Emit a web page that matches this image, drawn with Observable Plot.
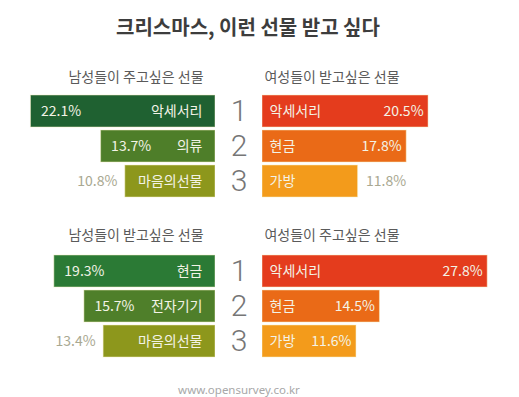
<!DOCTYPE html>
<html>
<head>
<meta charset="utf-8">
<script src="https://cdn.jsdelivr.net/npm/d3@7"></script>
<script src="https://cdn.jsdelivr.net/npm/@observablehq/plot@0.6"></script>
<style>
  html, body { margin: 0; padding: 0; background: #fff; }
  #root { position: relative; width: 519px; height: 397px; overflow: hidden; background: #fff;
          font-family: "Noto Sans CJK KR", "Noto Sans", sans-serif; }
  .abs { position: absolute; }
  .title { left: 0; top: 0; width: 496px; height: 54px; line-height: 54px; text-align: center;
           font-size: 20px; font-weight: bold; color: #3d3d3d; }
  .head { height: 20px; line-height: 20px; text-align: center; font-size: 14px; color: #5a5a5a; }
  .foot { left: 0; width: 478px; text-align: center; font-family: "Noto Sans", sans-serif;
          font-size: 11.5px; color: #a8a8a8; line-height: 16px; }
</style>
</head>
<body>
<div id="root"></div>
<script>
const chartTitle = "크리스마스, 이런 선물 받고 싶다";
const footer = "www.opensurvey.co.kr";
const ranks = [1, 2, 3];

const sectionHeads = [
  ["남성들이 주고싶은 선물", "여성들이 받고싶은 선물"],
  ["남성들이 받고싶은 선물", "여성들이 주고싶은 선물"]
];

// Section 1
const menGiveItems = ["악세서리", "의류", "마음의선물"];
const menGiveValues = [22.1, 13.7, 10.8];
const menGiveOutside = [false, false, true];
const womenWantItems = ["악세서리", "현금", "가방"];
const womenWantValues = [20.5, 17.8, 11.8];
const womenWantOutside = [false, false, true];

// Section 2
const menWantItems = ["현금", "전자기기", "마음의선물"];
const menWantValues = [19.3, 15.7, 13.4];
const menWantOutside = [false, false, true];
const womenGiveItems = ["악세서리", "현금", "가방"];
const womenGiveValues = [27.8, 14.5, 11.6];
const womenGiveOutside = [false, false, false];

const greensTop = ["#1f6131", "#4e7e29", "#8d971c"];
const greensBottom = ["#2b7a35", "#4f7f2a", "#8d971c"];
const oranges = ["#e43c1d", "#ea6a17", "#f39b1b"];

const korFont = "Noto Sans CJK KR";
const inText = "#f3f3e6";
const outText = "#a9a891";

function rows(items, values, outside, colors) {
  return ranks.map((r, i) => ({rank: r, item: items[i], value: values[i], outside: outside[i], color: colors[i]}));
}

const yOpts = {domain: ranks, axis: null, paddingInner: 0.1, paddingOuter: 0.05};

function leftPanel(items, values, outside, colors) {
  const data = rows(items, values, outside, colors);
  return Plot.plot({
    width: 215, height: 106, margin: 0,
    x: {domain: [0, 25.75], reverse: true, axis: null},
    y: yOpts,
    color: {type: "identity"},
    marks: [
      Plot.barX(data, {x1: 0, x2: "value", y: "rank", fill: "color", stroke: "#f7efc6", strokeOpacity: 0.5, strokeWidth: 1}),
      Plot.text(data, {x: 0, y: "rank", text: "item", dx: -13, textAnchor: "end", fill: inText, fontSize: 14, fontFamily: korFont}),
      Plot.text(data, {filter: d => !d.outside, x: "value", y: "rank", text: d => d.value.toFixed(1) + "%", dx: 10, textAnchor: "start", fill: inText, fontSize: 14, fontFamily: korFont}),
      Plot.text(data, {filter: d => d.outside, x: "value", y: "rank", text: d => d.value.toFixed(1) + "%", dx: -8, textAnchor: "end", fill: outText, fontSize: 14, fontFamily: korFont})
    ]
  });
}

function rightPanel(items, values, outside, colors) {
  const data = rows(items, values, outside, colors);
  return Plot.plot({
    width: 257, height: 106, margin: 0,
    x: {domain: [0, 31.73], axis: null},
    y: yOpts,
    color: {type: "identity"},
    marks: [
      Plot.barX(data, {x1: 0, x2: "value", y: "rank", fill: "color", stroke: "#f7efc6", strokeOpacity: 0.5, strokeWidth: 1}),
      Plot.text(data, {x: 0, y: "rank", text: "item", dx: 7, textAnchor: "start", fill: inText, fontSize: 14, fontFamily: korFont}),
      Plot.text(data, {filter: d => !d.outside, x: "value", y: "rank", text: d => d.value.toFixed(1) + "%", dx: -5, textAnchor: "end", fill: inText, fontSize: 14, fontFamily: korFont}),
      Plot.text(data, {filter: d => d.outside, x: "value", y: "rank", text: d => d.value.toFixed(1) + "%", dx: 8, textAnchor: "start", fill: outText, fontSize: 14, fontFamily: korFont})
    ]
  });
}

function rankPanel() {
  return Plot.plot({
    width: 47, height: 116, marginTop: 5, marginBottom: 5, marginLeft: 0, marginRight: 0,
    y: yOpts,
    marks: [
      Plot.text(ranks, {y: d => d, text: d => String(d), fill: "#767676", fontSize: 30, fontWeight: 300, fontFamily: "Roboto, 'Liberation Sans', sans-serif"})
    ]
  });
}

const root = document.getElementById("root");
function place(el, left, top, cls) {
  el.classList.add("abs");
  if (cls) el.classList.add(cls);
  el.style.left = left + "px";
  el.style.top = top + "px";
  root.appendChild(el);
  return el;
}
function div(text, cls) {
  const d = document.createElement("div");
  d.textContent = text;
  d.className = cls;
  return d;
}

const t = div(chartTitle, "title"); place(t, 0, 0);

const sections = [
  {headTop: 66, plotTop: 93, heads: sectionHeads[0],
   left: [menGiveItems, menGiveValues, menGiveOutside, greensTop],
   right: [womenWantItems, womenWantValues, womenWantOutside, oranges]},
  {headTop: 224, plotTop: 253, heads: sectionHeads[1],
   left: [menWantItems, menWantValues, menWantOutside, greensBottom],
   right: [womenGiveItems, womenGiveValues, womenGiveOutside, oranges]}
];

for (const s of sections) {
  const hl = div(s.heads[0], "head"); hl.style.width = "272px"; place(hl, 0, s.headTop);
  const hr = div(s.heads[1], "head"); hr.style.width = "140px"; place(hr, 262, s.headTop);
  place(leftPanel(...s.left), 0, s.plotTop);
  place(rankPanel(), 215, s.plotTop - 5);
  place(rightPanel(...s.right), 262, s.plotTop);
}

const f = div(footer, "foot"); place(f, 0, 382);
</script>
</body>
</html>
